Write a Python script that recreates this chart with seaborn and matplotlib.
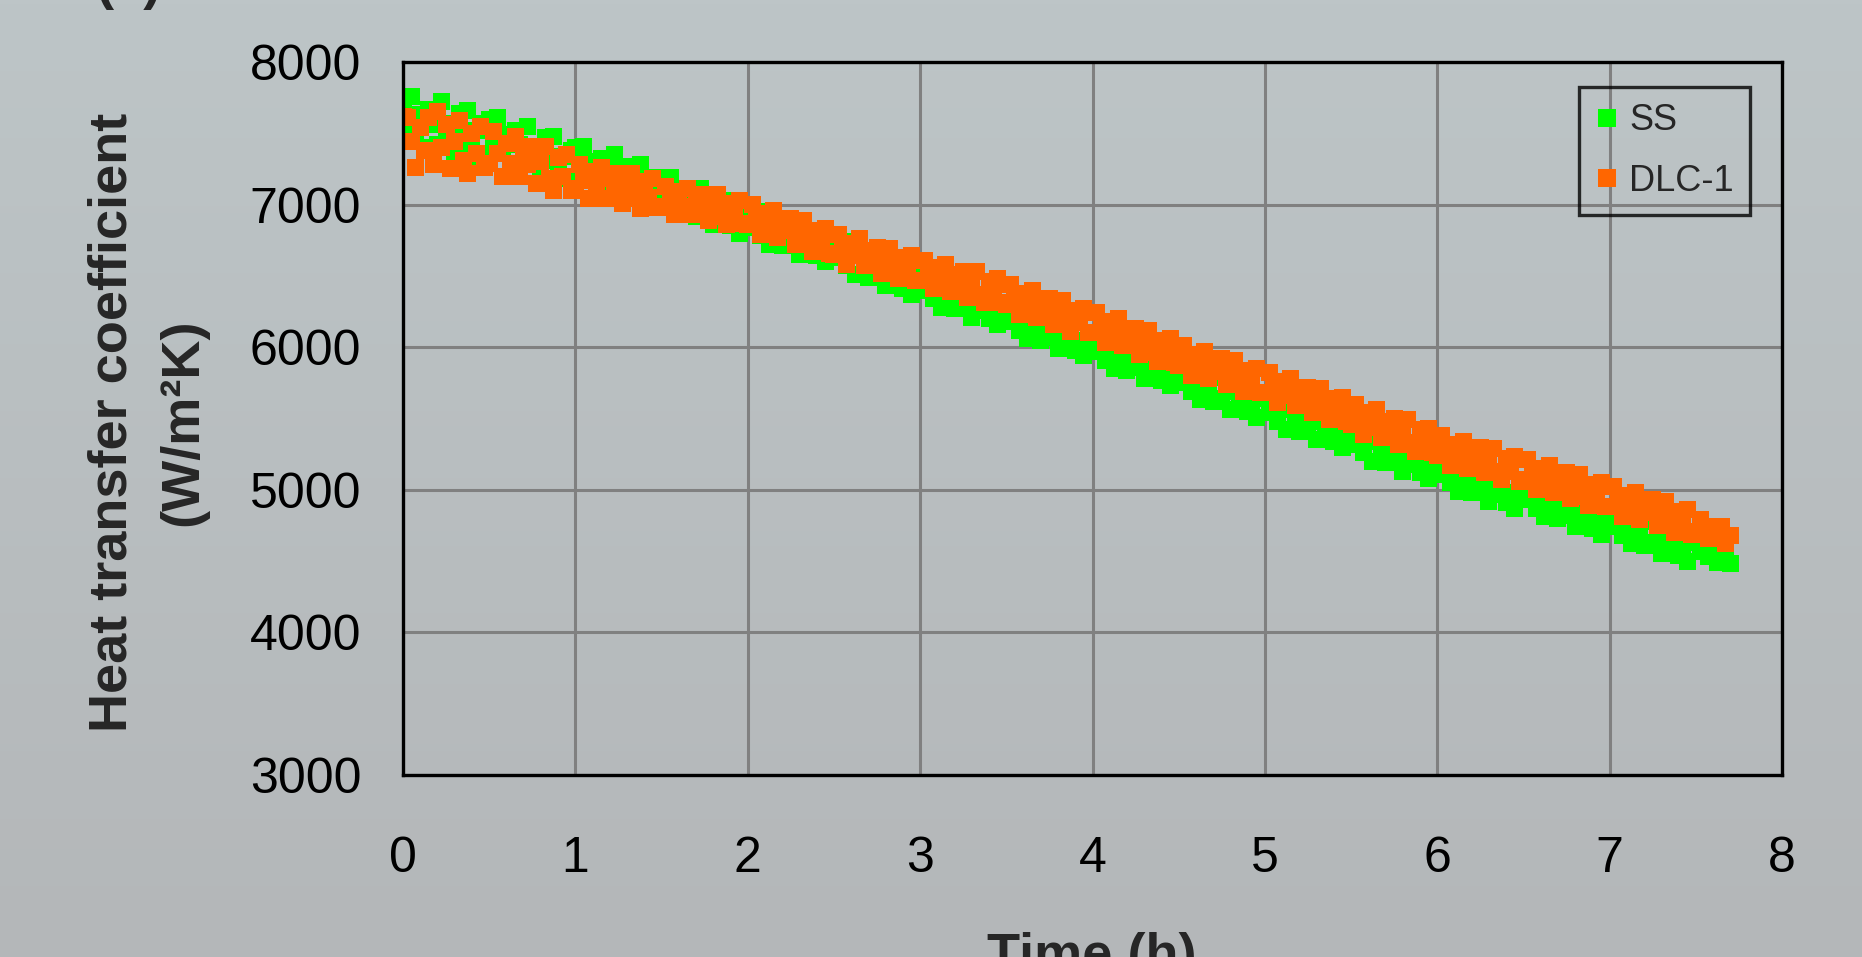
import numpy as np
import pandas as pd
import matplotlib
matplotlib.use('Agg')
import matplotlib.pyplot as plt
import seaborn as sns

# Time axis: one reading every 1.5 minutes (0.025 h), 0 .. 7.7 h
time_h = np.round(np.arange(309) * 0.025, 3)

# Heat transfer coefficient (W/m2K); one row = 0.5 h
ss = [7740, 7560, 7760, 7480, 7630, 7400, 7670, 7560, 7420, 7720, 7470, 7570, 7360, 7640, 7470, 7660, 7390, 7520, 7340, 7570,
      7600, 7440, 7610, 7360, 7490, 7290, 7520, 7420, 7290, 7550, 7330, 7410, 7220, 7470, 7310, 7480, 7230, 7340, 7180, 7380,
      7400, 7270, 7410, 7200, 7300, 7130, 7320, 7240, 7120, 7350, 7160, 7230, 7060, 7270, 7140, 7280, 7070, 7160, 7020, 7190,
      7190, 7070, 7190, 7000, 7090, 6940, 7100, 7020, 6920, 7110, 6950, 7000, 6860, 7030, 6910, 7030, 6850, 6920, 6800, 6950,
      6950, 6840, 6950, 6780, 6860, 6720, 6870, 6800, 6710, 6880, 6730, 6780, 6650, 6810, 6700, 6810, 6640, 6710, 6600, 6730,
      6740, 6630, 6740, 6570, 6650, 6510, 6650, 6580, 6490, 6660, 6510, 6560, 6430, 6590, 6480, 6590, 6410, 6480, 6370, 6500,
      6510, 6400, 6510, 6340, 6420, 6280, 6430, 6360, 6270, 6440, 6290, 6340, 6210, 6370, 6260, 6370, 6200, 6270, 6160, 6290,
      6290, 6180, 6290, 6120, 6200, 6060, 6210, 6140, 6050, 6220, 6070, 6120, 5990, 6150, 6040, 6150, 5980, 6050, 5940, 6070,
      6080, 5970, 6080, 5910, 5990, 5850, 6000, 5930, 5840, 6010, 5860, 5910, 5780, 5940, 5830, 5940, 5770, 5840, 5730, 5860,
      5860, 5750, 5860, 5690, 5770, 5630, 5780, 5710, 5620, 5790, 5640, 5690, 5560, 5720, 5610, 5720, 5550, 5620, 5510, 5640,
      5650, 5540, 5650, 5480, 5560, 5420, 5570, 5500, 5410, 5580, 5430, 5480, 5350, 5510, 5400, 5510, 5340, 5410, 5300, 5430,
      5430, 5320, 5430, 5260, 5340, 5200, 5350, 5280, 5190, 5360, 5210, 5260, 5130, 5290, 5180, 5290, 5120, 5190, 5080, 5210,
      5220, 5110, 5220, 5050, 5130, 4990, 5140, 5070, 4980, 5150, 5000, 5050, 4920, 5080, 4970, 5080, 4910, 4980, 4870, 5000,
      5040, 4930, 5040, 4870, 4950, 4810, 4960, 4890, 4800, 4970, 4820, 4870, 4740, 4900, 4790, 4900, 4730, 4800, 4690, 4820,
      4850, 4740, 4850, 4680, 4760, 4620, 4770, 4700, 4610, 4780, 4630, 4680, 4550, 4710, 4600, 4710, 4540, 4610, 4500, 4630,
      4640, 4570, 4640, 4530, 4580, 4490, 4580, 4540, 4480]

dlc1 = [7620, 7610, 7440, 7260, 7540, 7380, 7610, 7280, 7650, 7400, 7560, 7250, 7440, 7590, 7310, 7220, 7500, 7360, 7550, 7260,
        7290, 7510, 7360, 7200, 7430, 7290, 7480, 7200, 7370, 7280, 7410, 7150, 7300, 7410, 7180, 7100, 7330, 7200, 7350, 7100,
        7110, 7280, 7170, 7040, 7230, 7110, 7260, 7040, 7180, 7110, 7220, 7010, 7130, 7220, 7040, 6970, 7160, 7050, 7180, 6980,
        6990, 7130, 7040, 6930, 7090, 6990, 7110, 6930, 7040, 6990, 7070, 6890, 7000, 7070, 6920, 6860, 7010, 6930, 7030, 6870,
        6860, 7000, 6900, 6790, 6940, 6840, 6960, 6770, 6880, 6820, 6900, 6720, 6820, 6890, 6730, 6670, 6820, 6730, 6830, 6660,
        6650, 6790, 6690, 6580, 6730, 6640, 6760, 6570, 6680, 6620, 6700, 6520, 6620, 6690, 6530, 6480, 6630, 6540, 6640, 6470,
        6470, 6610, 6510, 6410, 6560, 6460, 6580, 6390, 6510, 6450, 6530, 6350, 6450, 6530, 6370, 6310, 6460, 6370, 6480, 6310,
        6300, 6440, 6340, 6230, 6380, 6280, 6400, 6210, 6320, 6260, 6340, 6160, 6260, 6330, 6170, 6110, 6260, 6170, 6270, 6100,
        6100, 6240, 6140, 6030, 6180, 6080, 6200, 6010, 6120, 6060, 6130, 5950, 6050, 6120, 5960, 5900, 6050, 5960, 6060, 5890,
        5870, 6010, 5910, 5800, 5950, 5850, 5970, 5780, 5890, 5830, 5920, 5740, 5840, 5910, 5750, 5690, 5840, 5750, 5850, 5680,
        5680, 5820, 5720, 5610, 5760, 5660, 5780, 5590, 5700, 5640, 5720, 5540, 5640, 5710, 5550, 5490, 5640, 5550, 5650, 5480,
        5460, 5600, 5500, 5390, 5540, 5440, 5560, 5370, 5480, 5420, 5500, 5320, 5420, 5490, 5330, 5270, 5420, 5330, 5430, 5260,
        5240, 5380, 5280, 5170, 5320, 5220, 5340, 5150, 5260, 5200, 5300, 5120, 5220, 5290, 5130, 5070, 5220, 5130, 5230, 5060,
        5070, 5210, 5110, 5000, 5150, 5050, 5170, 4980, 5090, 5030, 5120, 4940, 5040, 5110, 4950, 4890, 5040, 4950, 5050, 4880,
        4880, 5020, 4920, 4810, 4960, 4860, 4980, 4790, 4900, 4840, 4930, 4750, 4850, 4920, 4760, 4700, 4850, 4760, 4860, 4690,
        4710, 4790, 4730, 4660, 4740, 4680, 4740, 4620, 4680]

series_names = ['SS', 'DLC-1']
series_colors = ['#00ff00', '#ff6600']
x_ticks = [0, 1, 2, 3, 4, 5, 6, 7, 8]
y_ticks = [3000, 4000, 5000, 6000, 7000, 8000]

df = pd.DataFrame({
    'Time': np.concatenate([time_h, time_h]),
    'HTC': ss + dlc1,
    'Series': ['SS'] * len(ss) + ['DLC-1'] * len(dlc1),
})

sns.set_style('white')
plt.rcParams['font.family'] = ['Liberation Sans', 'DejaVu Sans']

W, H = 1862, 957
fig = plt.figure(figsize=(W / 100, H / 100), dpi=100)

# gray-blue gradient backdrop
bg = fig.add_axes([0, 0, 1, 1], zorder=-10)
top_c = np.array([189, 197, 199]) / 255
bot_c = np.array([180, 183, 185]) / 255
t = np.linspace(0, 1, 256)[:, None]
grad = (top_c[None, :] * (1 - t) + bot_c[None, :] * t)[:, None, :]
bg.imshow(grad, aspect='auto', extent=[0, 1, 0, 1])
bg.axis('off')

ax = fig.add_axes([403 / W, 1 - 775 / H, (1782 - 403) / W, (775 - 62) / H])
ax.set_facecolor('none')

sns.scatterplot(data=df, x='Time', y='HTC', hue='Series', hue_order=series_names,
                palette=series_colors, marker='s', s=150, linewidth=0, ax=ax,
                zorder=3, legend=True)

ax.set_xlim(0, 8)
ax.set_ylim(3000, 8000)
ax.set_xticks(x_ticks)
ax.set_yticks(y_ticks)
ax.grid(True, color='#808080', linewidth=2.2)
ax.set_axisbelow(True)
for sp in ax.spines.values():
    sp.set_visible(True)
    sp.set_color('black')
    sp.set_linewidth(2.4)
    sp.set_zorder(5)
ax.tick_params(axis='both', direction='out', length=13, width=2.4, color='black',
               labelsize=36, labelcolor='black')
ax.tick_params(axis='x', pad=31)
ax.tick_params(axis='y', pad=17)
ax.set_xlabel('')
ax.set_ylabel('')

leg = ax.legend(loc='upper right', bbox_to_anchor=((1750 - 403) / 1379, (775 - 87) / 713),
                borderaxespad=0, fontsize=26, frameon=True, fancybox=False,
                edgecolor='black', facecolor='none', markerscale=1.0,
                handletextpad=0.25, labelspacing=0.7, borderpad=0.45, handlelength=0.7)
leg.get_frame().set_linewidth(2.4)
leg.set_zorder(6)

fig.text(148 / W, 1 - 422 / H, 'Heat transfer coefficient\n(W/m²K)', rotation=90,
         ha='center', va='center', fontsize=39, fontweight='bold', linespacing=1.55)
fig.text(1092 / W, -0.0146, 'Time (h)', ha='center', va='baseline',
         fontsize=39, fontweight='bold')
fig.text(128 / W, 1.0014, '(a)', ha='center', va='baseline',
         fontsize=39, fontweight='bold')

fig.savefig('out.png', dpi=100)
